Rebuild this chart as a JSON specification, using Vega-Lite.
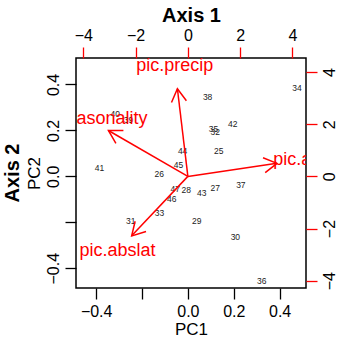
{
  "$schema": "https://vega.github.io/schema/vega-lite/v6.json",
  "width": 230,
  "height": 230,
  "autosize": {"type": "none"},
  "padding": {"left": 76, "top": 58, "right": 31, "bottom": 52},
  "title": {"text": "Axis 2", "orient": "left", "fontSize": 20, "fontWeight": "bold", "font": "Liberation Sans", "color": "black", "offset": 2},
  "config": {
    "font": "Liberation Sans",
    "view": {"stroke": "black", "strokeWidth": 1.5},
    "axis": {
      "grid": false,
      "domain": false,
      "tickSize": 11,
      "tickWidth": 1.3,
      "labelFontSize": 16,
      "labelColor": "black",
      "labelFont": "Liberation Sans",
      "labelOverlap": false,
      "labelPadding": 4,
      "titleFontSize": 17,
      "titleFontWeight": "normal",
      "titleColor": "black",
      "titleFont": "Liberation Sans"
    }
  },
  "datasets": {
    "scores": [
      {"id": "34", "PC1": 0.476, "PC2": 0.384},
      {"id": "38", "PC1": 0.086, "PC2": 0.345},
      {"id": "40", "PC1": -0.317, "PC2": 0.272},
      {"id": "39", "PC1": -0.259, "PC2": 0.243},
      {"id": "35", "PC1": 0.112, "PC2": 0.207},
      {"id": "32", "PC1": 0.119, "PC2": 0.192},
      {"id": "42", "PC1": 0.196, "PC2": 0.229},
      {"id": "44", "PC1": -0.023, "PC2": 0.112},
      {"id": "25", "PC1": 0.134, "PC2": 0.109},
      {"id": "45", "PC1": -0.041, "PC2": 0.051},
      {"id": "41", "PC1": -0.386, "PC2": 0.035},
      {"id": "26", "PC1": -0.125, "PC2": 0.008},
      {"id": "47", "PC1": -0.055, "PC2": -0.057},
      {"id": "28", "PC1": -0.007, "PC2": -0.061},
      {"id": "27", "PC1": 0.119, "PC2": -0.051},
      {"id": "37", "PC1": 0.231, "PC2": -0.039},
      {"id": "43", "PC1": 0.060, "PC2": -0.074},
      {"id": "46", "PC1": -0.070, "PC2": -0.100},
      {"id": "33", "PC1": -0.124, "PC2": -0.158},
      {"id": "29", "PC1": 0.039, "PC2": -0.193},
      {"id": "31", "PC1": -0.249, "PC2": -0.193},
      {"id": "30", "PC1": 0.207, "PC2": -0.266},
      {"id": "36", "PC1": 0.322, "PC2": -0.454}
    ],
    "loadings": [
      {"name": "pic.precip", "tx": -0.40, "ty": 3.36, "lx": -0.50, "ly": 4.24},
      {"name": "pic.seasonality", "tx": -3.04, "ty": 1.76, "lx": -3.80, "ly": 2.20},
      {"name": "pic.alt", "tx": 3.41, "ty": 0.50, "lx": 4.17, "ly": 0.63},
      {"name": "pic.abslat", "tx": -2.15, "ty": -2.28, "lx": -2.69, "ly": -2.85}
    ]
  },
  "layer": [
    {
      "data": {"name": "scores"},
      "mark": {"type": "text", "fontSize": 8.5, "color": "#222", "align": "center", "baseline": "middle", "font": "Liberation Sans"},
      "encoding": {
        "x": {
          "field": "PC1", "type": "quantitative",
          "scale": {"domain": [-0.488, 0.515], "nice": false, "zero": false},
          "axis": {"orient": "bottom", "title": "PC1", "values": [-0.4, -0.2, 0, 0.2, 0.4], "format": ".1f", "labelExpr": "datum.value == -0.2 ? '' : datum.label", "tickColor": "black", "titlePadding": 2}
        },
        "y": {
          "field": "PC2", "type": "quantitative",
          "scale": {"domain": [-0.486, 0.515], "nice": false, "zero": false},
          "axis": {"orient": "left", "title": "PC2", "values": [-0.4, -0.2, 0, 0.2, 0.4], "format": ".1f", "labelExpr": "datum.value == -0.2 ? '' : datum.label", "labelAngle": -90, "labelAlign": "center", "labelBaseline": "bottom", "tickColor": "black", "titlePadding": 2}
        },
        "text": {"field": "id"}
      }
    },
    {
      "data": {"name": "loadings"},
      "transform": [{"calculate": "atan2(-datum.ty, datum.tx) * 180 / PI", "as": "ang"}],
      "encoding": {
        "x": {
          "field": "tx", "type": "quantitative",
          "scale": {"domain": [-4.28, 4.52], "nice": false, "zero": false},
          "axis": {"orient": "top", "title": "Axis 1", "titleFontSize": 20, "titleFontWeight": "bold", "values": [-4, -2, 0, 2, 4], "tickColor": "red", "titlePadding": 2}
        },
        "y": {
          "field": "ty", "type": "quantitative",
          "scale": {"domain": [-4.28, 4.54], "nice": false, "zero": false},
          "axis": {"orient": "right", "title": null, "values": [-4, -2, 0, 2, 4], "tickColor": "red", "labelAngle": -90, "labelAlign": "center", "labelBaseline": "top"}
        }
      },
      "layer": [
        {
          "mark": {"type": "rule", "color": "red", "strokeWidth": 1.5},
          "encoding": {"x2": {"datum": 0}, "y2": {"datum": 0}}
        },
        {
          "mark": {"type": "point", "shape": "M -1 -0.577 L 0 0 L -1 0.577", "filled": false, "stroke": "red", "strokeWidth": 1.5, "size": 676, "opacity": 1},
          "encoding": {"angle": {"field": "ang", "type": "quantitative", "scale": null}}
        },
        {
          "mark": {"type": "text", "color": "red", "fontSize": 18, "align": "center", "baseline": "middle", "clip": true, "font": "Liberation Sans"},
          "encoding": {
            "x": {"field": "lx", "type": "quantitative"},
            "y": {"field": "ly", "type": "quantitative"},
            "text": {"field": "name"}
          }
        }
      ]
    }
  ],
  "resolve": {"scale": {"x": "independent", "y": "independent"}, "axis": {"x": "independent", "y": "independent"}}
}
